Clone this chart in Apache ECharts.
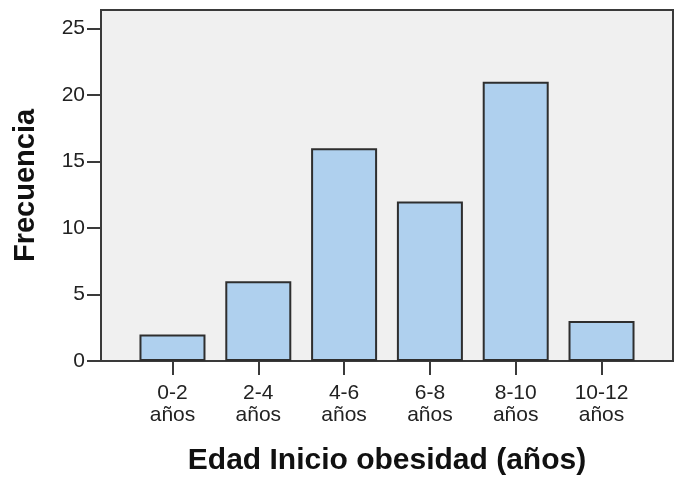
<!DOCTYPE html>
<html><head><meta charset="utf-8">
<script src="https://cdn.jsdelivr.net/npm/echarts@6/dist/echarts.min.js"></script>
<style>html,body{margin:0;padding:0;background:#fff}#c{width:677px;height:481px}</style>
</head><body><div id="c"></div>
<script>
const categories = ['0-2\naños', '2-4\naños', '4-6\naños', '6-8\naños', '8-10\naños', '10-12\naños'];
const frecuencia = [2, 6, 16, 12, 21, 3];
const yTicks = [0, 5, 10, 15, 20, 25];

const idx = categories.map((c, i) => i);
const chart = echarts.init(document.getElementById('c'), null, {renderer: 'canvas'});
chart.setOption({
  animation: false,
  grid: {left: 101, top: 10, right: 4, bottom: 119, show: true, backgroundColor: '#f0f0f0', borderColor: '#3a3a3a', borderWidth: 2},
  xAxis: {
    type: 'value', min: -0.833, max: categories.length - 1 + 0.833,
    name: 'Edad Inicio obesidad (años)', nameLocation: 'middle', nameGap: 85,
    nameTextStyle: {fontFamily: 'Liberation Sans', fontWeight: 'bold', fontSize: 30, color: '#111'},
    splitLine: {show: false},
    axisLine: {show: true, onZero: false, lineStyle: {color: '#3a3a3a', width: 2}},
    axisTick: {show: true, customValues: idx, length: 14, lineStyle: {color: '#3a3a3a', width: 2}},
    axisLabel: {customValues: idx, formatter: v => categories[Math.round(v)], margin: 21,
      fontFamily: 'Liberation Sans', fontSize: 21, lineHeight: 22, color: '#222'}
  },
  yAxis: {
    type: 'value', min: 0, max: 26.4,
    name: 'Frecuencia', nameLocation: 'middle', nameGap: 61, nameRotate: 90,
    nameTextStyle: {fontFamily: 'Liberation Sans', fontWeight: 'bold', fontSize: 29, color: '#111'},
    splitLine: {show: false},
    axisLine: {show: true, onZero: false, lineStyle: {color: '#3a3a3a', width: 2}},
    axisTick: {show: true, customValues: yTicks, length: 14, lineStyle: {color: '#3a3a3a', width: 2}},
    axisLabel: {customValues: yTicks, margin: 16, fontFamily: 'Liberation Sans', fontSize: 21, color: '#222'}
  },
  series: [{
    type: 'bar', barWidth: 66,
    data: frecuencia.map((v, i) => [i, v]),
    itemStyle: {color: '#afd0ee', borderColor: '#2e2e2e', borderWidth: 2}
  }]
});
</script></body></html>
